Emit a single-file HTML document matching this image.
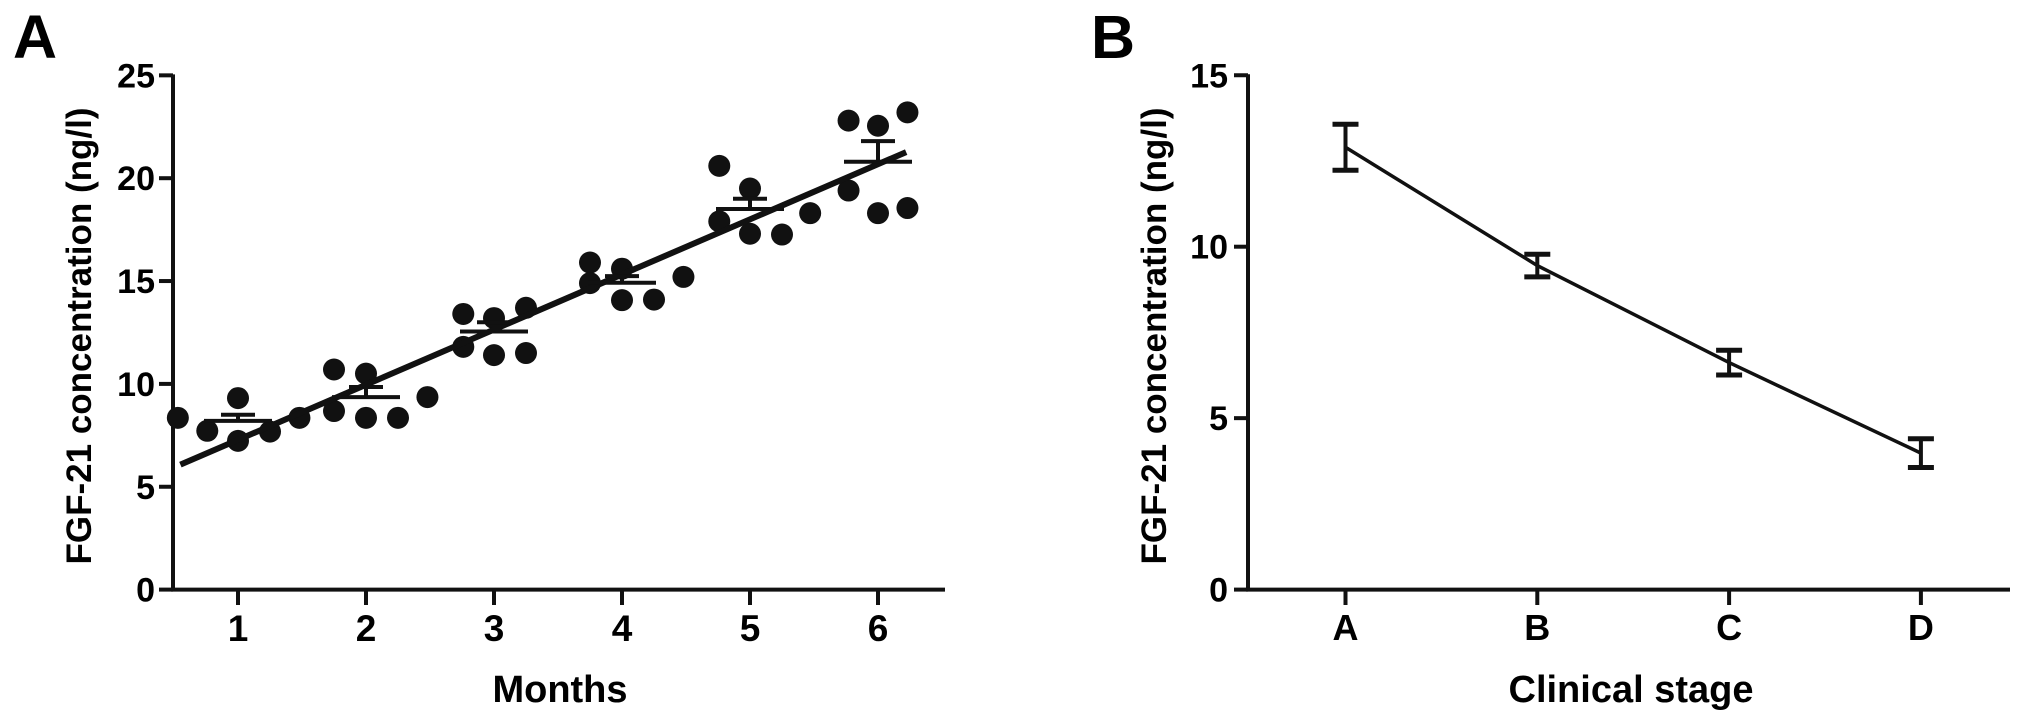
<!DOCTYPE html>
<html><head><meta charset="utf-8"><style>
html,body{margin:0;padding:0;background:#fff;}
svg{display:block;font-family:"Liberation Sans",Arial,sans-serif;font-weight:bold;}
</style></head><body>
<svg id="fig" width="2031" height="724" viewBox="0 0 2031 724" xmlns="http://www.w3.org/2000/svg">
<g id="pa"></g>
<g id="pb"></g>
</svg>
<script>
// Panel A data
const monthTicks = [1,2,3,4,5,6];
const yTicksA = [0,5,10,15,20,25];
const ptsX = [0.53,0.76,1.0,1.0,1.25,1.48, 1.75,1.75,2.0,2.0,2.25,2.48, 2.76,2.76,3.0,3.0,3.25,3.25, 3.75,3.75,4.0,4.0,4.25,4.48, 4.76,4.76,5.0,5.0,5.25,5.47, 5.77,5.77,6.0,6.0,6.23,6.23];
const ptsY = [8.35,7.72,9.31,7.23,7.68,8.35, 8.68,10.7,8.35,10.5,8.35,9.36, 13.4,11.8,13.2,11.4,13.7,11.5, 15.9,14.9,15.6,14.07,14.1,15.2, 20.6,17.9,19.5,17.3,17.26,18.3, 22.8,19.4,22.55,18.3,23.2,18.55];
const meansA = [8.2,9.36,12.55,14.92,18.5,20.8];
const semA = [0.3,0.49,0.45,0.32,0.5,1.0];
const regSlope = 2.68, regIntercept = 4.6;
const regRange = [0.55,6.22];
// Panel B data
const stages = ["A","B","C","D"];
const yTicksB = [0,5,10,15];
const meansB = [12.9,9.45,6.62,3.98];
const semB = [0.67,0.33,0.36,0.42];

const NS="http://www.w3.org/2000/svg";
function mk(parent,tag,attrs,text){const e=document.createElementNS(NS,tag);for(const k in attrs)e.setAttribute(k,attrs[k]);if(text!==undefined)e.textContent=text;parent.appendChild(e);return e;}

// ---- Panel A ----
const pa=document.getElementById('pa');
const ax=v=>238+(v-1)*128;
const ay=v=>589.6-v*20.57;
let e;
e=mk(pa,'text',{x:13,y:58,'font-size':61});e.textContent='A';


e=mk(pa,'line',{x1:173,y1:ay(25)-1,x2:173,y2:591.5,stroke:'#111','stroke-width':4});


e=mk(pa,'line',{x1:171,y1:589.6,x2:945,y2:589.6,stroke:'#111','stroke-width':4});


yTicksA.forEach(v=>{
  e=mk(pa,'line',{x1:159,y1:ay(v),x2:173,y2:ay(v),stroke:'#111','stroke-width':4});
  
  
  e=mk(pa,'text',{x:155,y:ay(v)+12,'font-size':34,'text-anchor':'end'},String(v));
  
  
});
monthTicks.forEach(v=>{
  e=mk(pa,'line',{x1:ax(v),y1:589,x2:ax(v),y2:605,stroke:'#111','stroke-width':4});
  
  
  e=mk(pa,'text',{x:ax(v),y:641,'font-size':37,'text-anchor':'middle'},String(v));
  
  
});
e=mk(pa,'text',{x:560,y:702,'font-size':38,'text-anchor':'middle'},'Months');


e=mk(pa,'text',{x:0,y:0,'font-size':35,'text-anchor':'middle',transform:'translate(91,336) rotate(-90)'},'FGF-21 concentration (ng/l)');


ptsX.forEach((x,i)=>{
  e=mk(pa,'circle',{cx:ax(x),cy:ay(ptsY[i]),r:11,fill:'#111'});
  
  
});
e=mk(pa,'line',{x1:ax(regRange[0]),y1:ay(regIntercept+regSlope*regRange[0]),x2:ax(regRange[1]),y2:ay(regIntercept+regSlope*regRange[1]),stroke:'#111','stroke-width':6});


meansA.forEach((m,i)=>{
  const c=ax(monthTicks[i]);
  e=mk(pa,'line',{x1:c-34,y1:ay(m),x2:c+34,y2:ay(m),stroke:'#111','stroke-width':4});
  
  
  e=mk(pa,'line',{x1:c,y1:ay(m),x2:c,y2:ay(m+semA[i]),stroke:'#111','stroke-width':4});
  
  
  e=mk(pa,'line',{x1:c-17,y1:ay(m+semA[i]),x2:c+17,y2:ay(m+semA[i]),stroke:'#111','stroke-width':4});
  
  
});

// ---- Panel B ----
const pb=document.getElementById('pb');
const bx=i=>1345.5+i*191.8;
const by=v=>589.6-v*34.29;
e=mk(pb,'text',{x:1091,y:58,'font-size':61});e.textContent='B';


e=mk(pb,'line',{x1:1248,y1:by(15)-1,x2:1248,y2:591.5,stroke:'#111','stroke-width':4});


e=mk(pb,'line',{x1:1246,y1:589.6,x2:2010,y2:589.6,stroke:'#111','stroke-width':4});


yTicksB.forEach(v=>{
  e=mk(pb,'line',{x1:1234,y1:by(v),x2:1248,y2:by(v),stroke:'#111','stroke-width':4});
  
  
  e=mk(pb,'text',{x:1228,y:by(v)+12,'font-size':34,'text-anchor':'end'},String(v));
  
  
});
stages.forEach((s,i)=>{
  e=mk(pb,'line',{x1:bx(i),y1:589,x2:bx(i),y2:605,stroke:'#111','stroke-width':4});
  
  
  e=mk(pb,'text',{x:bx(i),y:640,'font-size':36,'text-anchor':'middle'},s);
  
  
});
e=mk(pb,'text',{x:1631,y:702,'font-size':38,'text-anchor':'middle'},'Clinical stage');


e=mk(pb,'text',{x:0,y:0,'font-size':35,'text-anchor':'middle',transform:'translate(1166,336) rotate(-90)'},'FGF-21 concentration (ng/l)');


e=mk(pb,'polyline',{points:meansB.map((m,i)=>bx(i)+','+by(m)).join(' '),fill:'none',stroke:'#111','stroke-width':3.5});


meansB.forEach((m,i)=>{
  const c=bx(i), t=by(m+semB[i]), b=by(m-semB[i]);
  e=mk(pb,'line',{x1:c,y1:t,x2:c,y2:b,stroke:'#111','stroke-width':4});
  
  
  e=mk(pb,'line',{x1:c-13,y1:t,x2:c+13,y2:t,stroke:'#111','stroke-width':5});
  
  
  e=mk(pb,'line',{x1:c-13,y1:b,x2:c+13,y2:b,stroke:'#111','stroke-width':5});
  
  
});
</script>
</body></html>
